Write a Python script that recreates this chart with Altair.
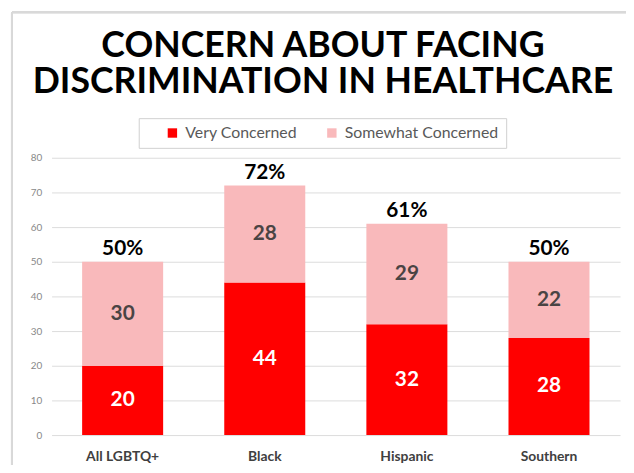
import altair as alt
import pandas as pd

categories = ["All LGBTQ+", "Black", "Hispanic", "Southern"]
very = [20, 44, 32, 28]
somewhat = [30, 28, 29, 22]
totals = [50, 72, 61, 50]
series_names = ["Very Concerned", "Somewhat Concerned"]
series_colors = ["#FF0000", "#F9B9BB"]

rows = []
for c, v, s in zip(categories, very, somewhat):
    rows.append({"category": c, "series": series_names[0], "value": v, "order": 0})
    rows.append({"category": c, "series": series_names[1], "value": s, "order": 1})
df = pd.DataFrame(rows)
df_tot = pd.DataFrame({"category": categories, "total": totals})

FONT = "Lato"

x_axis = alt.Axis(
    title=None, labelAngle=0, domain=False, ticks=False,
    labelFont=FONT, labelFontSize=14, labelFontWeight="bold",
    labelColor="#404040", labelPadding=15,
)
y_axis = alt.Axis(
    title=None, values=list(range(0, 81, 10)), domain=False, ticks=False,
    labelFont=FONT, labelFontSize=10, labelColor="#888888", labelPadding=10,
    gridColor="#dcdcdc", gridWidth=1, labelOverlap=False, labelFlush=False,
)
x_scale = alt.Scale(paddingInner=0.43, paddingOuter=0.215)
y_scale = alt.Scale(domain=[0, 80], nice=False)

bars = alt.Chart(df).mark_bar().encode(
    x=alt.X("category:N", sort=categories, scale=x_scale, axis=x_axis),
    y=alt.Y("value:Q", stack=True, scale=y_scale, axis=y_axis),
    color=alt.Color(
        "series:N",
        scale=alt.Scale(domain=series_names, range=series_colors),
        legend=alt.Legend(
            title=None, orient="none", legendX=88, legendY=-40,
            direction="horizontal", symbolType="square", symbolSize=90,
            symbolStrokeWidth=0, labelFont=FONT, labelFontSize=16,
            labelColor="#595959", strokeColor="#d0d0d0", fillColor="white",
            padding=7, symbolOffset=19, columnPadding=8, labelOffset=5,
        ),
    ),
    order=alt.Order("order:Q"),
)

seg_labels = alt.Chart(df).transform_stack(
    stack="value", groupby=["category"], as_=["y0", "y1"],
    sort=[alt.SortField("order", order="ascending")],
).transform_calculate(
    mid="(datum.y0 + datum.y1) / 2"
).mark_text(
    font=FONT, fontSize=21, fontWeight="bold", baseline="middle"
).encode(
    x=alt.X("category:N", sort=categories, scale=x_scale, axis=x_axis),
    y=alt.Y("mid:Q", scale=y_scale, axis=y_axis),
    text=alt.Text("value:Q"),
    color=alt.condition(
        alt.datum.series == series_names[0], alt.value("white"), alt.value("#4a4444")
    ),
)

tot_labels = alt.Chart(df_tot).transform_calculate(
    label="datum.total + '%'"
).mark_text(
    font=FONT, fontSize=21, fontWeight="bold", baseline="alphabetic", dy=-7,
    color="black",
).encode(
    x=alt.X("category:N", sort=categories, scale=x_scale, axis=x_axis),
    y=alt.Y("total:Q", scale=y_scale, axis=y_axis),
    text="label:N",
)

frame_left = alt.Chart(df_tot).mark_rule(color="#d9d9d9", strokeWidth=2).encode(
    x=alt.value(-40), y=alt.value(-147), y2=alt.value(320)
)
frame_top = alt.Chart(df_tot).mark_rule(color="#d9d9d9", strokeWidth=2).encode(
    x=alt.value(-40), x2=alt.value(590), y=alt.value(-147)
)

chart = alt.layer(bars, seg_labels, tot_labels, frame_left, frame_top).properties(
    width=574, height=280,
    autosize=alt.AutoSizeParams(type="none"),
    padding={"left": 44, "top": 149, "right": 6, "bottom": 28},
    title=alt.Title(
        ["CONCERN ABOUT FACING", "DISCRIMINATION IN HEALTHCARE"],
        font=FONT, fontSize=36, fontWeight="bold", color="black",
        anchor="middle", lineHeight=37, offset=-91, dx=-13,
    ),
).configure_view(stroke=None)

chart.save("out.html", embed_options={"renderer": "svg", "actions": False})
